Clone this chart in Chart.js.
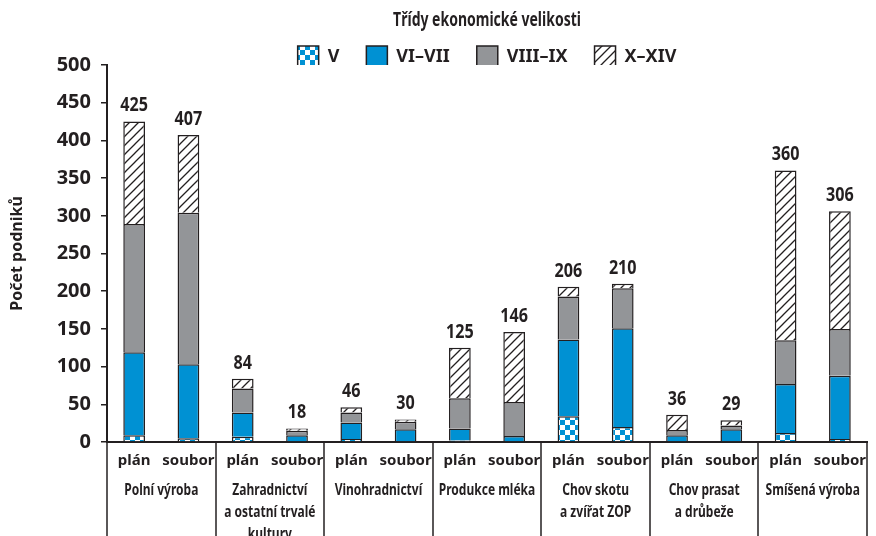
<!DOCTYPE html>
<html>
  <head>
    <title>Třídy ekonomické velikosti</title>
    <style>
      body { margin: 0; background: #fff; }
      canvas { display: block; }
    </style>
  </head>
  <body>
    <canvas id="canvas" width="876" height="536"></canvas>

    <script src="https://cdn.jsdelivr.net/npm/chart.js@4.4.1/dist/chart.umd.min.js"></script>
    <script>
      // data
      const categories = ["plán", "soubor", "plán", "soubor", "plán", "soubor", "plán", "soubor", "plán", "soubor", "plán", "soubor", "plán", "soubor"];
      const groups = [
        ["Polní výroba"],
        ["Zahradnictví", "a ostatní trvalé", "kultury"],
        ["Vinohradnictví"],
        ["Produkce mléka"],
        ["Chov skotu", "a zvířat ZOP"],
        ["Chov prasat", "a drůbeže"],
        ["Smíšená výroba"],
      ];
      const valuesV = [9, 5, 7, 1, 4, 1, 2, 1, 34, 20, 1, 1, 12, 4];
      const valuesVI_VII = [110, 98, 32, 8, 22, 16, 16, 7, 102, 131, 8, 16, 65, 84];
      const valuesVIII_IX = [170, 201, 32, 6, 13, 10, 40, 45, 57, 53, 7, 5, 58, 62];
      const valuesX_XIV = [136, 103, 13, 3, 7, 3, 67, 93, 13, 6, 20, 7, 225, 156];
      const yTicks = [0, 50, 100, 150, 200, 250, 300, 350, 400, 450, 500];
      const legendTitle = "Třídy ekonomické velikosti";

      const FONT = "'Noto Sans', 'DejaVu Sans Condensed', sans-serif";
      const INK = "#231f20";
      const BLUE = "#0091d3";
      const GREY = "#939598";

      // fill patterns
      function checker() {
        let c = document.createElement("canvas");
        c.width = 10; c.height = 10;
        let g = c.getContext("2d");
        g.fillStyle = "#fff"; g.fillRect(0, 0, 10, 10);
        g.fillStyle = BLUE;
        g.fillRect(0, 0, 5, 5); g.fillRect(5, 5, 5, 5);
        return g.createPattern(c, "repeat");
      }
      function hatch() {
        let c = document.createElement("canvas");
        c.width = 9; c.height = 9;
        let g = c.getContext("2d");
        g.fillStyle = "#fff"; g.fillRect(0, 0, 9, 9);
        g.strokeStyle = INK; g.lineWidth = 1.3;
        g.beginPath();
        g.moveTo(0, 9); g.lineTo(9, 0);
        g.moveTo(-1, 1); g.lineTo(1, -1);
        g.moveTo(8, 10); g.lineTo(10, 8);
        g.stroke();
        return g.createPattern(c, "repeat");
      }

      // narrow text: the original uses a condensed face
      function narrowText(ctx, text, x, y, squeeze) {
        ctx.save();
        ctx.translate(x, y);
        ctx.scale(squeeze, 1);
        ctx.fillText(text, 0, 0);
        ctx.restore();
      }

      // legend block: fixed height, centred over the plot instead of the canvas
      const legendFit = {
        id: "legendFit",
        beforeLayout(chart) {
          const lg = chart.legend;
          if (lg && !lg._fixed) {
            const fit = lg.fit;
            lg.fit = function () { fit.call(this); this.height = 46; };
            lg._fixed = true;
          }
        },
        afterLayout(chart) {
          chart.legend.left = chart.chartArea.left;
          chart.legend.right = chart.chartArea.right;
        },
      };

      // title, totals, separators and group names under the axis
      const extras = {
        id: "extras",
        afterDraw(chart) {
          const ctx = chart.ctx;
          const x = chart.scales.x;
          const area = chart.chartArea;
          const step = x.getPixelForValue(1) - x.getPixelForValue(0);
          ctx.save();
          ctx.fillStyle = INK;
          ctx.textAlign = "center";

          // legend title
          ctx.font = "bold 20px " + FONT;
          ctx.textBaseline = "middle";
          narrowText(ctx, legendTitle, (area.left + area.right) / 2, 20, 0.7);

          // totals above bars
          ctx.font = "bold 19px " + FONT;
          ctx.textBaseline = "bottom";
          const top = chart.getDatasetMeta(3).data;
          categories.forEach((c, i) => {
            const total = valuesV[i] + valuesVI_VII[i] + valuesVIII_IX[i] + valuesX_XIV[i];
            narrowText(ctx, String(total), top[i].x, top[i].y - 6, 0.85);
          });

          // group separators
          ctx.strokeStyle = INK;
          ctx.lineWidth = 1.5;
          for (let g = 0; g <= groups.length; g++) {
            const px = Math.round(x.getPixelForValue(g * 2) - step / 2);
            ctx.beginPath();
            ctx.moveTo(px, area.bottom);
            ctx.lineTo(px, chart.height);
            ctx.stroke();
          }

          // group names
          ctx.font = "bold 16px " + FONT;
          ctx.textBaseline = "middle";
          groups.forEach((lines, g) => {
            const cx = (x.getPixelForValue(g * 2) + x.getPixelForValue(g * 2 + 1)) / 2;
            lines.forEach((t, k) => narrowText(ctx, t, cx, area.bottom + 48 + k * 22, 0.75));
          });
          ctx.restore();
        },
      };

      let config = {
        type: "bar",
        data: {
          labels: categories,
          datasets: [
            { label: "V", data: valuesV, backgroundColor: checker() },
            { label: "VI–VII", data: valuesVI_VII, backgroundColor: BLUE },
            { label: "VIII–IX", data: valuesVIII_IX, backgroundColor: GREY },
            { label: "X–XIV", data: valuesX_XIV, backgroundColor: hatch() },
          ].map((d) => Object.assign(d, {
            borderColor: INK,
            borderWidth: 1.5,
            barPercentage: 0.4,
            categoryPercentage: 1,
          })),
        },
        options: {
          responsive: false,
          animation: false,
          layout: { padding: { left: 0, right: 0, top: 19, bottom: 0 } },
          plugins: {
            tooltip: { enabled: false },
            legend: {
              position: "top",
              labels: {
                color: INK,
                font: { family: FONT, size: 18, weight: "bold" },
                boxWidth: 21,
                boxHeight: 21,
                padding: 27,
              },
            },
          },
          scales: {
            x: {
              stacked: true,
              grid: { display: false, drawTicks: false },
              border: { color: INK, width: 2 },
              ticks: {
                color: INK,
                font: { family: FONT, size: 15, weight: "bold" },
                padding: 10,
                autoSkip: false,
                maxRotation: 0,
              },
              afterFit(scale) { scale.height = 94; },
            },
            y: {
              stacked: true,
              min: 0,
              max: 500,
              afterBuildTicks(scale) { scale.ticks = yTicks.map((v) => ({ value: v })); },
              grid: { drawOnChartArea: false, drawTicks: true, tickLength: 6, color: INK, lineWidth: 1.5 },
              border: { color: INK, width: 2 },
              ticks: {
                color: INK,
                font: { family: FONT, size: 20, weight: "bold" },
                padding: 10,
              },
              title: {
                display: true,
                text: "Počet podniků",
                color: INK,
                font: { family: FONT, size: 16, weight: "bold" },
                padding: { top: 8, bottom: 0 },
              },
              afterFit(scale) { scale.width = 107; },
            },
          },
        },
        plugins: [legendFit, extras],
      };

      var ctx = document.getElementById("canvas").getContext("2d");
      var chart = new Chart(ctx, config);
    </script>
  </body>
</html>
